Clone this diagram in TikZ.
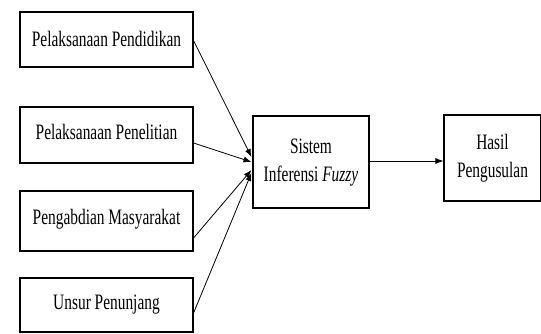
\documentclass[tikz,border=0pt]{standalone}
\usepackage{fontspec}
\setmainfont{Liberation Serif}[FakeStretch=0.7]
\usetikzlibrary{arrows.meta,calc}
\begin{document}
\begin{tikzpicture}[x=1pt,y=-1pt,
  box/.style={draw, line width=1.1pt, inner sep=0pt, align=center,
    font=\fontsize{22}{27}\selectfont},
  conn/.style={line width=0.8pt, -{Latex[length=8pt,width=6pt]}},
  ]
\useasboundingbox (0,0) rectangle (541,334);
\node[box, minimum width=173pt, minimum height=55pt] (b1) at (106.5,39.5) {\raisebox{2pt}{Pelaksanaan Pendidikan}};
\node[box, minimum width=173pt, minimum height=56pt] (b2) at (106.5,135) {\raisebox{7pt}{Pelaksanaan Penelitian}};
\node[box, minimum width=173pt, minimum height=60pt] (b3) at (106.5,221) {\raisebox{9pt}{Pengabdian Masyarakat}};
\node[box, minimum width=173pt, minimum height=54pt] (b4) at (106.5,305) {\raisebox{4pt}{Unsur Penunjang}};
\node[box, minimum width=116pt, minimum height=92pt] (c) at (311,162) {\raisebox{4pt}{\begin{tabular}{@{}c@{}}Sistem\\[1pt] Inferensi \textit{Fuzzy}\end{tabular}}};
\node[box, minimum width=97pt, minimum height=86pt] (r) at (492.5,158) {\raisebox{6pt}{\begin{tabular}{@{}c@{}}Hasil\\[1pt] Pengusulan\end{tabular}}};
\coordinate (t1) at ($(c.west)+(-1,-5)$);
\coordinate (t2) at ($(c.west)+(-1,0)$);
\coordinate (t3) at ($(c.west)+(-1,8)$);
\coordinate (t4) at ($(c.west)+(-1,11)$);
\draw[conn] ($(b1.east)+(0,1)$) -- (t1);
\draw[conn] ($(b2.east)+(0,8)$) -- (t2);
\draw[conn] ($(b3.east)+(0,17)$) -- (t3);
\draw[conn] ($(b4.east)+(0,8)$) -- (t4);
\draw[conn] (c.east |- 0,161) -- (r.west |- 0,161);
\end{tikzpicture}
\end{document}
